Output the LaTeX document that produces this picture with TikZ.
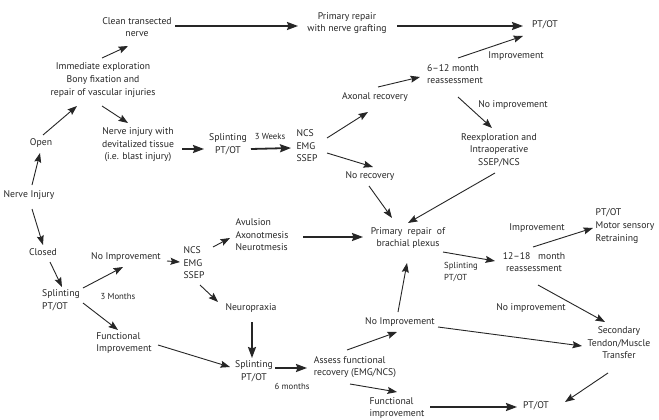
\documentclass[tikz,border=0pt]{standalone}
\usepackage{fontspec}
\setmainfont{PT Sans}
\usetikzlibrary{arrows.meta,calc}
\begin{document}
\begin{tikzpicture}[x=1pt,y=-1pt,
  txt/.style={font=\fontsize{9.7}{12.6}\selectfont, align=center, inner sep=1pt, text=black!85},
  lt/.style={txt, align=left},
  lab/.style={font=\fontsize{8.7}{11.5}\selectfont, inner sep=1pt, text=black!85},
  arr/.style={-{Stealth[length=9.5pt,width=7pt,inset=1.5pt]}, line width=0.9pt, draw=black!85},
  thk/.style={-{Stealth[length=11pt,width=8pt,inset=1.5pt]}, line width=1.8pt, draw=black!85}]
\useasboundingbox[fill=white] (0,0) rectangle (659,420);
% nodes
\node[txt] (clean) at (137,27) {Clean transected\\nerve};
\node[txt] (graft) at (347,23) {Primary repair\\with nerve grafting};
\node[txt] (ptot1) at (545,25) {PT/OT};
\node[txt] (immed) at (103,80) {Immediate exploration\\Bony fixation and\\repair of vascular injuries};
\node[txt] (open) at (41,143) {Open};
\node[txt] (injury) at (29,195) {Nerve Injury};
\node[txt] (devit) at (138,145) {Nerve injury with\\devitalized tissue\\(i.e. blast injury)};
\node[txt] (split1) at (228,144) {Splinting\\PT/OT};
\node[lab] (weeks3) at (270,137) {3 Weeks};
\node[lt] (ncs1) at (307,146) {NCS\\EMG\\SSEP};
\node[txt] (axonal) at (375,97) {Axonal recovery};
\node[lt] (m612) at (455,74) {6–12 month\\reassessment};
\node[txt] (impr1) at (516,56) {Improvement};
\node[txt] (noimpr1) at (513,105) {No improvement};
\node[txt] (reexp) at (499,150) {Reexploration and\\Intraoperative\\SSEP/NCS};
\node[txt] (norec) at (370,176) {No recovery};
\node[txt] (brachial) at (408,238) {Primary\ \ repair\ \ of\\brachial plexus};
\node[lt] (avul) at (262,235) {Avulsion\\Axonotmesis\\Neurotmesis};
\node[txt] (closed) at (43,252) {Closed};
\node[txt] (noimpL) at (126,257) {No Improvement};
\node[lt] (ncs2) at (194,263) {NCS\\EMG\\SSEP};
\node[lt] (splitL) at (61,300) {Splinting\\PT/OT};
\node[lab] (months3) at (118,297) {3 Months};
\node[txt] (neuro) at (251,308) {Neuropraxia};
\node[lt] (funcL) at (124,343) {Functional\\Improvement};
\node[txt] (splitB) at (254,371) {Splinting\\PT/OT};
\node[lab] (months6) at (292,386) {6 months};
\node[lt] (assess) at (355,367) {Assess functional\\recovery (EMG/NCS)};
\node[txt] (noimpR) at (400,322) {No Improvement};
\node[lt] (funcB) at (397,408) {Functional\\improvement};
\node[txt] (ptotB) at (536,406) {PT/OT};
\node[lab, align=left] (splitR) at (461,272) {Splinting\\PT/OT};
\node[txt] (m1218) at (534,262) {12–18\ \ \ month\\reassessment};
\node[txt] (impr2) at (537,228) {Improvement};
\node[lt] (ptotM) at (625,226) {PT/OT\\Motor sensory\\Retraining};
\node[txt] (noimpr2) at (531,308) {No improvement};
\node[txt] (second) at (619,343) {Secondary\\Tendon/Muscle\\Transfer};
% connectors
\draw[arr] ($(injury)+(3,-10)$) -- ($(open)+(-1,10)$);
\draw[arr] ($(open)+(2,-8)$) -- ($(immed)+(-26,26)$);
\draw[arr] ($(immed)+(-1,-22)$) -- ($(clean)+(-9,19)$);
\draw[arr] ($(immed)+(-1,26)$) -- ($(devit)+(-10,-22)$);
\draw[thk] ($(clean)+(38,-1)$) -- ($(graft)+(-49,3)$);
\draw[thk] ($(devit)+(44,4)$) -- ($(split1)+(-24,5)$);
\draw[thk] ($(split1)+(23,5)$) -- ($(ncs1)+(-16,2)$);
\draw[arr] ($(ncs1)+(20,-8)$) -- ($(axonal)+(-7,15)$);
\draw[arr] ($(ncs1)+(20,7)$) -- ($(norec)+(3,-9)$);
\draw[arr] ($(axonal)+(3,-10)$) -- ($(m612)+(-35,3)$);
\draw[arr] ($(m612)+(3,-16)$) -- ($(ptot1)+(-22,11)$);
\draw[thk] ($(graft)+(50,3)$) -- ($(ptot1)+(-22,1)$);
\draw[arr] ($(m612)+(3,23)$) -- ($(reexp)+(-7,-22)$);
\draw[arr] ($(reexp)+(-4,23)$) -- ($(brachial)+(0,-15)$);
\draw[arr] ($(norec)+(-1,10)$) -- ($(brachial)+(-16,-20)$);
\draw[thk] ($(avul)+(41,2)$) -- ($(brachial)+(-45,-1)$);
\draw[arr] ($(brachial)+(35,14)$) -- ($(m1218)+(-39,-1)$);
\draw[arr] ($(m1218)+(-1,-15)$) -- ($(ptotM)+(-32,2)$);
\draw[arr] ($(m1218)+(4,23)$) -- ($(second)+(-14,-21)$);
\draw[arr] ($(noimpR)+(-2,-10)$) -- ($(brachial)+(-1,25)$);
\draw[arr] ($(noimpR)+(38,5)$) -- ($(second)+(-37,3)$);
\draw[arr] ($(assess)+(-8,-17)$) -- ($(noimpR)+(-3,10)$);
\draw[arr] ($(assess)+(-5,17)$) -- ($(funcB)+(0,-16)$);
\draw[thk] ($(funcB)+(33,-1)$) -- ($(ptotB)+(-19,1)$);
\draw[arr] ($(second)+(-11,30)$) -- ($(ptotB)+(29,-4)$);
\draw[arr] ($(injury)+(3,14)$) -- ($(closed)+(0,-7)$);
\draw[arr] ($(closed)+(7,10)$) -- ($(splitL)+(1,-13)$);
\draw[arr] ($(splitL)+(22,-12)$) -- ($(noimpL)+(-3,10)$);
\draw[arr] ($(splitL)+(22,3)$) -- ($(funcL)+(-6,-13)$);
\draw[arr] ($(noimpL)+(41,4)$) -- ($(ncs2)+(-14,-1)$);
\draw[arr] ($(ncs2)+(19,-16)$) -- ($(avul)+(-32,3)$);
\draw[arr] ($(ncs2)+(6,22)$) -- ($(neuro)+(-33,-6)$);
\draw[thk] ($(neuro)+(1,14)$) -- ($(splitB)+(-2,-13)$);
\draw[arr] ($(funcL)+(34,2)$) -- ($(splitB)+(-24,-4)$);
\draw[thk] ($(splitB)+(21,-3)$) -- ($(assess)+(-48,1)$);
\end{tikzpicture}
\end{document}
